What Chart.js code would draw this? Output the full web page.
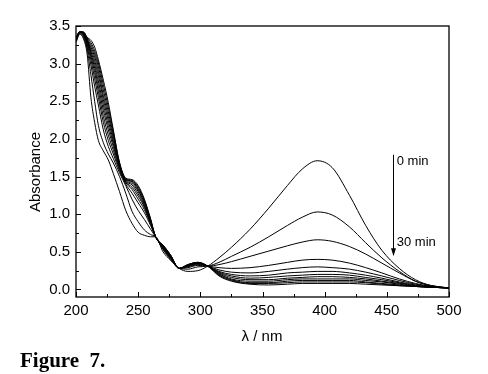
<!DOCTYPE html>
<html>
<head>
<meta charset="utf-8">
<script src="https://cdn.jsdelivr.net/npm/chart.js@4.4.0/dist/chart.umd.min.js"></script>
<style>
  html, body { margin: 0; padding: 0; background: #fff; }
  canvas { display: block; }
</style>
</head>
<body>
<canvas id="chart" width="488" height="374"></canvas>
<script>
// wavelengths (nm)
const wavelengths = [200, 203, 206, 209, 212, 215, 218, 222, 226, 230, 235, 240, 245, 250, 255, 260, 264, 270, 276, 283, 290, 298, 306, 315, 325, 340, 355, 370, 382, 394, 406, 420, 433, 446, 460, 473, 486, 500];

// absorbance spectra, 0 min first, 30 min last
const s0  = [3.28, 3.39, 3.33, 3.12, 2.55, 2.22, 1.98, 1.84, 1.72, 1.54, 1.30, 1.05, 0.88, 0.76, 0.72, 0.70, 0.70, 0.50, 0.39, 0.28, 0.24, 0.25, 0.31, 0.42, 0.56, 0.80, 1.08, 1.38, 1.60, 1.71, 1.62, 1.25, 0.85, 0.52, 0.28, 0.13, 0.05, 0.02];
const s1  = [3.30, 3.40, 3.35, 3.18, 2.85, 2.50, 2.18, 1.95, 1.80, 1.68, 1.50, 1.28, 1.04, 0.90, 0.79, 0.73, 0.70, 0.53, 0.40, 0.28, 0.27, 0.30, 0.31, 0.36, 0.44, 0.56, 0.70, 0.85, 0.96, 1.03, 0.99, 0.83, 0.62, 0.42, 0.24, 0.11, 0.05, 0.02];
const s2  = [3.31, 3.41, 3.37, 3.22, 2.98, 2.70, 2.45, 2.12, 1.90, 1.74, 1.55, 1.38, 1.20, 1.05, 0.93, 0.80, 0.70, 0.54, 0.41, 0.28, 0.29, 0.32, 0.31, 0.33, 0.37, 0.44, 0.51, 0.58, 0.63, 0.66, 0.64, 0.57, 0.47, 0.35, 0.22, 0.11, 0.05, 0.02];
const s3  = [3.31, 3.41, 3.38, 3.25, 3.05, 2.80, 2.55, 2.22, 1.98, 1.80, 1.58, 1.40, 1.28, 1.15, 1.02, 0.85, 0.70, 0.55, 0.42, 0.28, 0.30, 0.33, 0.31, 0.29, 0.28, 0.29, 0.32, 0.36, 0.39, 0.40, 0.39, 0.35, 0.29, 0.22, 0.14, 0.08, 0.04, 0.02];
const s4  = [3.32, 3.42, 3.39, 3.27, 3.10, 2.88, 2.63, 2.30, 2.05, 1.85, 1.60, 1.42, 1.33, 1.20, 1.06, 0.87, 0.70, 0.56, 0.43, 0.28, 0.31, 0.34, 0.31, 0.26, 0.23, 0.22, 0.24, 0.27, 0.29, 0.30, 0.29, 0.27, 0.23, 0.18, 0.12, 0.07, 0.04, 0.02];
const s5  = [3.32, 3.42, 3.40, 3.29, 3.13, 2.94, 2.70, 2.38, 2.12, 1.90, 1.62, 1.43, 1.36, 1.24, 1.09, 0.88, 0.70, 0.56, 0.43, 0.28, 0.31, 0.34, 0.31, 0.24, 0.20, 0.18, 0.19, 0.22, 0.23, 0.24, 0.24, 0.22, 0.19, 0.15, 0.10, 0.06, 0.03, 0.02];
const s6  = [3.33, 3.42, 3.40, 3.30, 3.16, 2.99, 2.77, 2.45, 2.18, 1.94, 1.64, 1.44, 1.39, 1.27, 1.11, 0.89, 0.70, 0.57, 0.44, 0.28, 0.32, 0.35, 0.31, 0.23, 0.18, 0.15, 0.16, 0.18, 0.19, 0.20, 0.20, 0.19, 0.16, 0.13, 0.09, 0.05, 0.03, 0.02];
const s7  = [3.33, 3.42, 3.41, 3.31, 3.19, 3.04, 2.84, 2.52, 2.24, 1.98, 1.65, 1.45, 1.41, 1.30, 1.13, 0.90, 0.70, 0.57, 0.44, 0.28, 0.32, 0.35, 0.31, 0.22, 0.16, 0.13, 0.13, 0.15, 0.16, 0.17, 0.17, 0.16, 0.14, 0.11, 0.08, 0.05, 0.03, 0.02];
const s8  = [3.34, 3.42, 3.41, 3.32, 3.22, 3.09, 2.90, 2.58, 2.30, 2.02, 1.66, 1.46, 1.43, 1.32, 1.15, 0.91, 0.70, 0.58, 0.45, 0.28, 0.32, 0.35, 0.31, 0.21, 0.14, 0.11, 0.11, 0.13, 0.14, 0.14, 0.14, 0.14, 0.12, 0.10, 0.07, 0.04, 0.03, 0.02];
const s9  = [3.34, 3.42, 3.41, 3.33, 3.25, 3.13, 2.96, 2.65, 2.36, 2.06, 1.67, 1.46, 1.44, 1.34, 1.17, 0.92, 0.70, 0.58, 0.45, 0.28, 0.33, 0.36, 0.31, 0.20, 0.13, 0.09, 0.09, 0.11, 0.12, 0.12, 0.12, 0.12, 0.10, 0.08, 0.06, 0.04, 0.03, 0.02];
const s10 = [3.35, 3.42, 3.42, 3.34, 3.28, 3.17, 3.01, 2.72, 2.42, 2.10, 1.68, 1.47, 1.45, 1.36, 1.18, 0.93, 0.70, 0.59, 0.46, 0.28, 0.33, 0.36, 0.31, 0.19, 0.12, 0.08, 0.08, 0.09, 0.10, 0.10, 0.10, 0.10, 0.09, 0.07, 0.05, 0.04, 0.03, 0.02];
const s11 = [3.35, 3.42, 3.42, 3.35, 3.31, 3.22, 3.05, 2.78, 2.48, 2.12, 1.69, 1.48, 1.46, 1.38, 1.20, 0.94, 0.70, 0.59, 0.46, 0.28, 0.33, 0.36, 0.31, 0.18, 0.11, 0.07, 0.06, 0.07, 0.08, 0.08, 0.08, 0.08, 0.07, 0.06, 0.05, 0.04, 0.03, 0.02];
const spectra = [s0, s1, s2, s3, s4, s5, s6, s7, s8, s9, s10, s11];

const xTicks = [200, 250, 300, 350, 400, 450, 500];
const xMinor = [225, 275, 325, 375, 425, 475];
const yTicks = [0.0, 0.5, 1.0, 1.5, 2.0, 2.5, 3.0, 3.5];
const yMinor = [0.25, 0.75, 1.25, 1.75, 2.25, 2.75, 3.25];

const FONT = '"Liberation Sans", Arial, sans-serif';

const datasets = spectra.map(s => ({
    data: wavelengths.map((w, i) => ({ x: w, y: s[i] })),
    borderColor: '#000',
    borderWidth: 1,
    pointRadius: 0,
    fill: false,
    cubicInterpolationMode: 'monotone'
}));

// frame, inward ticks, titles, arrow and caption
const decorations = {
    id: 'decorations',
    afterDraw(chart) {
        const ctx = chart.ctx;
        const a = chart.chartArea;
        const xs = chart.scales.x;
        const ys = chart.scales.y;
        ctx.save();
        ctx.strokeStyle = '#000';
        ctx.lineWidth = 1.3;
        ctx.strokeRect(a.left, a.top, a.right - a.left, a.bottom - a.top);

        ctx.lineWidth = 1;
        ctx.beginPath();
        xTicks.forEach(v => { const p = Math.round(xs.getPixelForValue(v)) + 0.5; ctx.moveTo(p, a.bottom); ctx.lineTo(p, a.bottom - 5); });
        xMinor.forEach(v => { const p = Math.round(xs.getPixelForValue(v)) + 0.5; ctx.moveTo(p, a.bottom); ctx.lineTo(p, a.bottom - 3); });
        yTicks.forEach(v => { const p = Math.round(ys.getPixelForValue(v)) + 0.5; ctx.moveTo(a.left, p); ctx.lineTo(a.left + 5, p); });
        yMinor.forEach(v => { const p = Math.round(ys.getPixelForValue(v)) + 0.5; ctx.moveTo(a.left, p); ctx.lineTo(a.left + 3, p); });
        ctx.stroke();

        ctx.fillStyle = '#000';
        ctx.font = '15px ' + FONT;
        ctx.textAlign = 'center';
        ctx.textBaseline = 'middle';
        ctx.fillText('λ / nm', 262, 337);
        ctx.save();
        ctx.translate(36, 172);
        ctx.rotate(-Math.PI / 2);
        ctx.fillText('Absorbance', 0, 0);
        ctx.restore();

        // arrow 0 min -> 30 min
        const ax = Math.round(xs.getPixelForValue(455)) + 0.5;
        const y0 = ys.getPixelForValue(1.79);
        const y1 = ys.getPixelForValue(0.44);
        ctx.beginPath();
        ctx.moveTo(ax, y0);
        ctx.lineTo(ax, y1 - 6);
        ctx.stroke();
        ctx.beginPath();
        ctx.moveTo(ax - 2.5, y1 - 8);
        ctx.lineTo(ax + 2.5, y1 - 8);
        ctx.lineTo(ax, y1);
        ctx.closePath();
        ctx.fill();

        ctx.font = '13px ' + FONT;
        ctx.textAlign = 'left';
        ctx.fillText('0 min', xs.getPixelForValue(458), ys.getPixelForValue(1.70));
        ctx.fillText('30 min', xs.getPixelForValue(458), ys.getPixelForValue(0.62));

        ctx.font = 'bold 21px "Liberation Serif", "Times New Roman", serif';
        ctx.textBaseline = 'alphabetic';
        ctx.fillText('Figure  7.', 20, 367);
        ctx.restore();
    }
};

new Chart(document.getElementById('chart').getContext('2d'), {
    type: 'line',
    data: { datasets: datasets },
    options: {
        responsive: false,
        animation: false,
        devicePixelRatio: 1,
        layout: { padding: { left: 0, top: 26, right: 39, bottom: 0 } },
        plugins: { legend: { display: false }, tooltip: { enabled: false } },
        scales: {
            x: {
                type: 'linear',
                min: 200,
                max: 500,
                grid: { display: false, drawTicks: false },
                border: { display: false },
                afterFit: s => { s.height = 77; },
                afterBuildTicks: s => { s.ticks = xTicks.map(v => ({ value: v })); },
                ticks: { color: '#000', padding: 5, font: { size: 15, family: FONT }, maxRotation: 0, autoSkip: false, callback: v => String(v) }
            },
            y: {
                type: 'linear',
                min: -0.1,
                max: 3.5,
                grid: { display: false, drawTicks: false },
                border: { display: false },
                afterFit: s => { s.width = 76; },
                afterBuildTicks: s => { s.ticks = yTicks.map(v => ({ value: v })); },
                ticks: { color: '#000', padding: 6, font: { size: 15, family: FONT }, autoSkip: false, callback: v => Number(v).toFixed(1) }
            }
        }
    },
    plugins: [decorations]
});
</script>
</body>
</html>
